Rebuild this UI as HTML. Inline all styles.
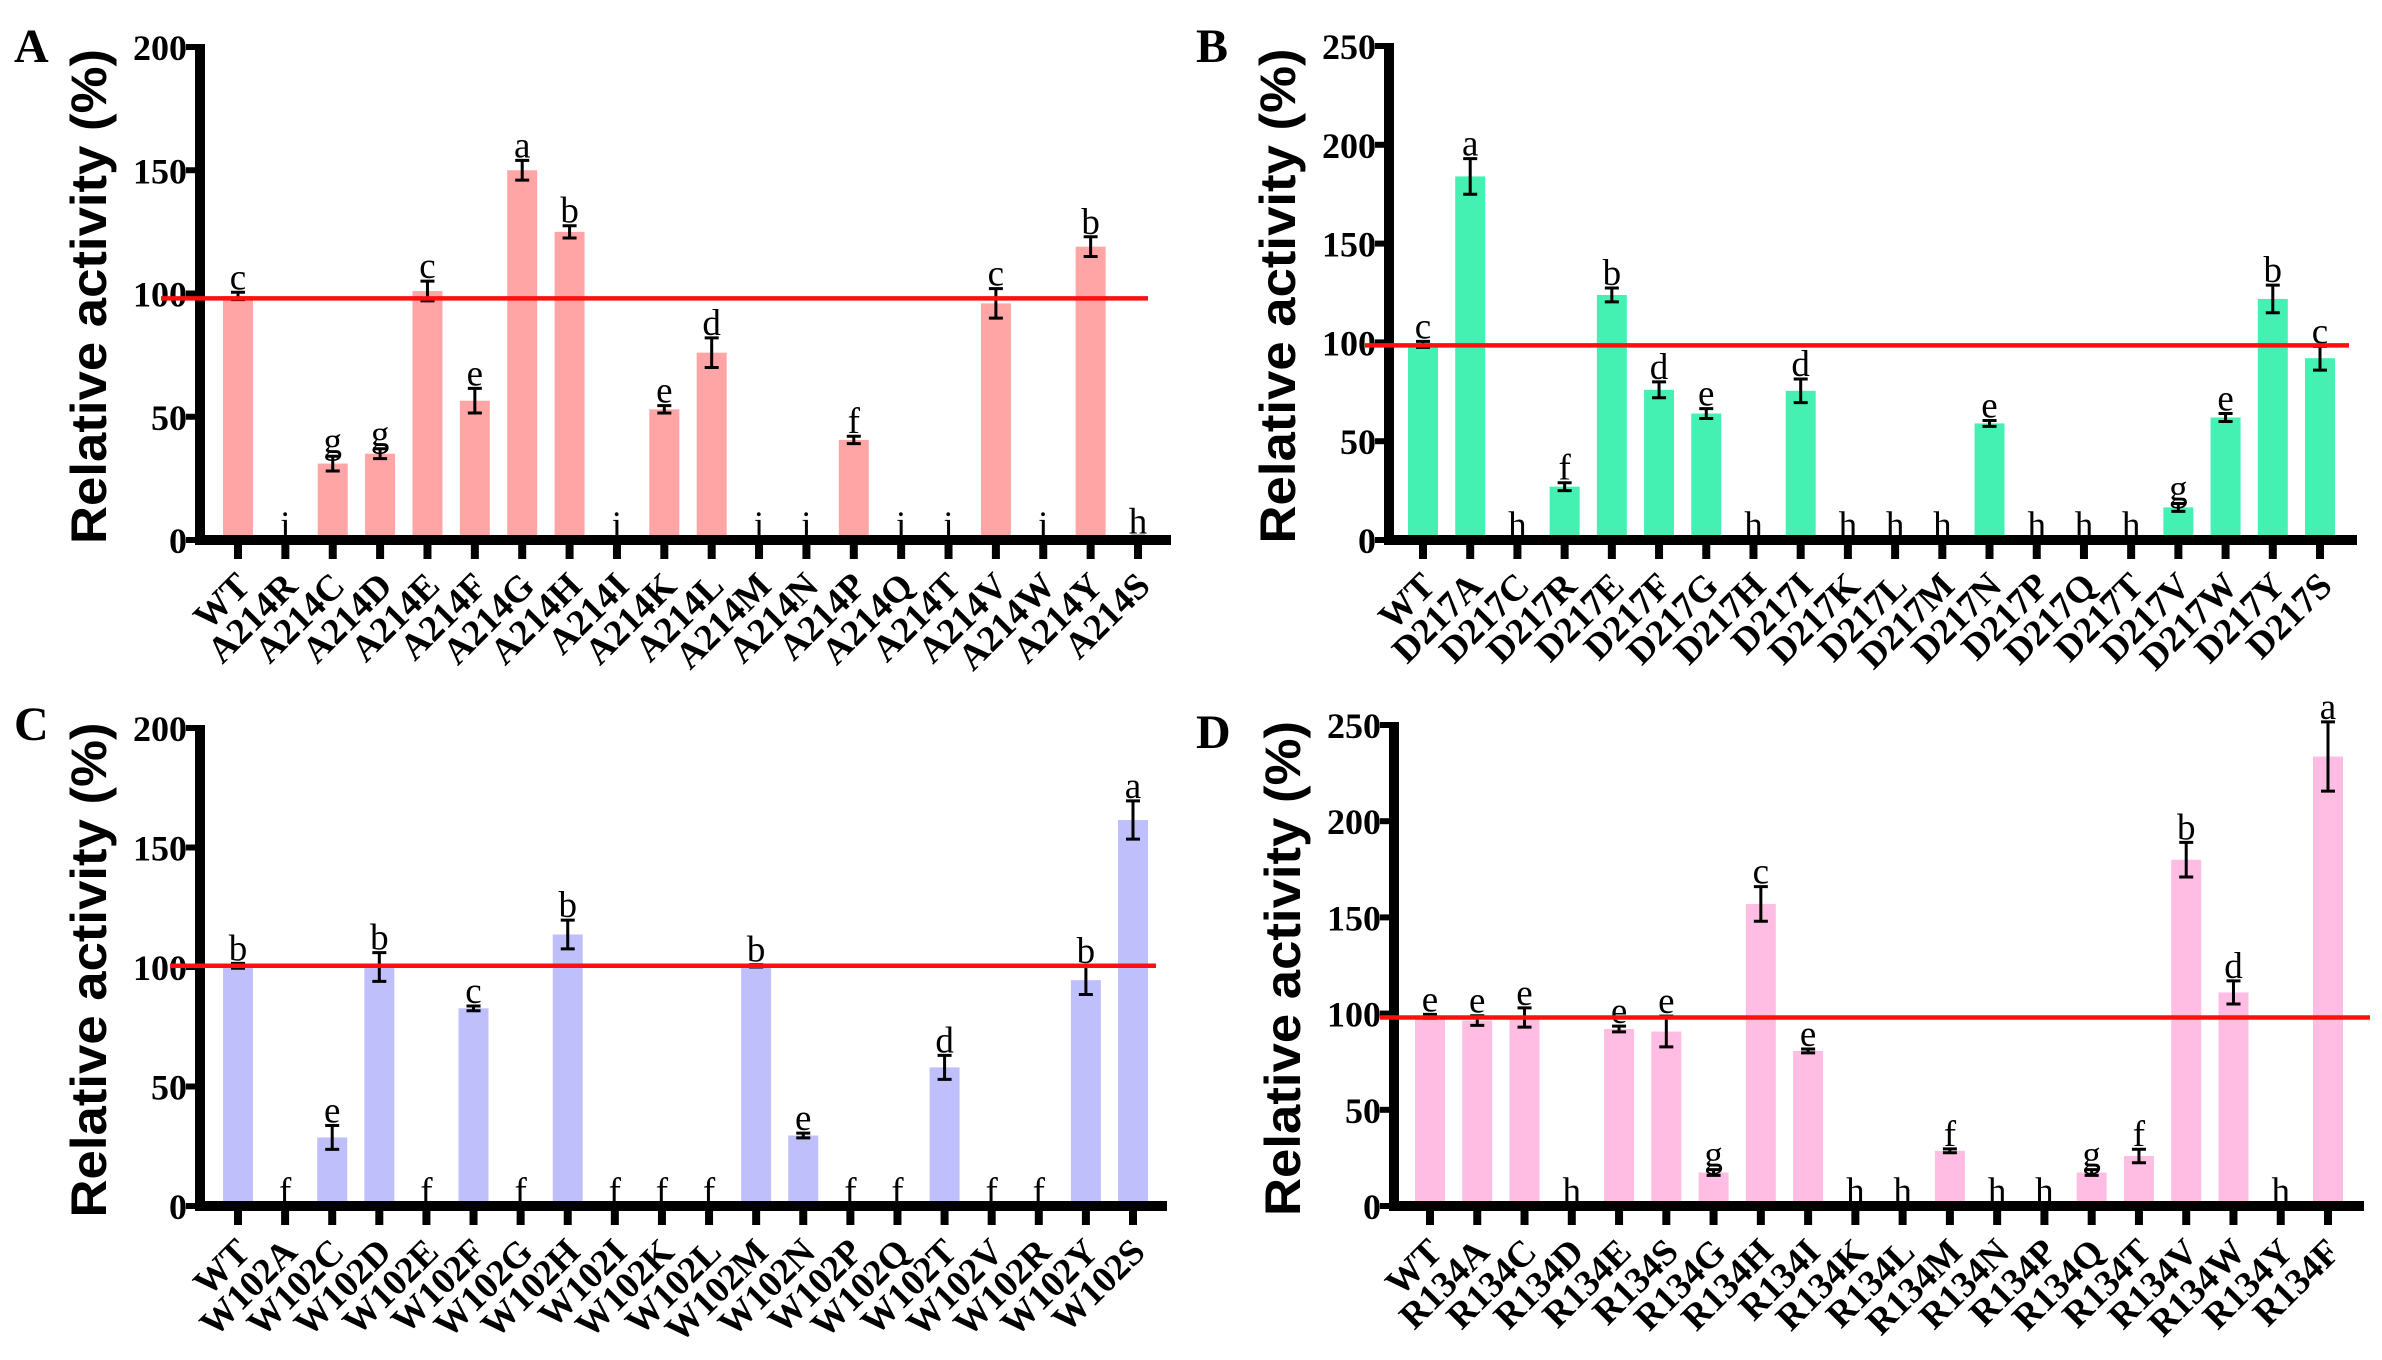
<!DOCTYPE html>
<html><head><meta charset="utf-8">
<style>
html,body{margin:0;padding:0;background:#fff;}
svg{display:block;}
</style></head>
<body>
<svg id="fig" width="2382" height="1360" viewBox="0 0 2382 1360" xmlns="http://www.w3.org/2000/svg"></svg>
<script>
// Panel A data
const catsA = ["WT","A214R","A214C","A214D","A214E","A214F","A214G","A214H","A214I","A214K","A214L","A214M","A214N","A214P","A214Q","A214T","A214V","A214W","A214Y","A214S"];
const valsA = [99,0,31,35,101,56.5,150,125,0,53,76,0,0,40.6,0,0,96,0,119,1];
const errsA = [1.5,0,3,2,4,5,4,2.5,0,1.5,6,0,0,1.5,0,0,6,0,4,0.5];
const letsA = ["c","i","g","g","c","e","a","b","i","e","d","i","i","f","i","i","c","i","b","h"];
const ticksA = [0,50,100,150,200];
// Panel B data
const catsB = ["WT","D217A","D217C","D217R","D217E","D217F","D217G","D217H","D217I","D217K","D217L","D217M","D217N","D217P","D217Q","D217T","D217V","D217W","D217Y","D217S"];
const valsB = [99,184,0,27,124,76,64,0,75.5,0,0,0,59,0,0,0,16.5,62,122,92];
const errsB = [1.5,9,0,2,3.5,4,2.5,0,6,0,0,0,1.5,0,0,0,2,2,7,6];
const letsB = ["c","a","h","f","b","d","e","h","d","h","h","h","e","h","h","h","g","e","b","c"];
const ticksB = [0,50,100,150,200,250];
// Panel C data
const catsC = ["WT","W102A","W102C","W102D","W102E","W102F","W102G","W102H","W102I","W102K","W102L","W102M","W102N","W102P","W102Q","W102T","W102V","W102R","W102Y","W102S"];
const valsC = [100.5,0,28.7,100,0,82.7,0,113.6,0,0,0,100.5,29.5,0,0,58,0,0,94.5,161.5];
const errsC = [1,0,5,6,0,1,0,6,0,0,0,0.5,1,0,0,5,0,0,6,8];
const letsC = ["b","f","e","b","f","c","f","b","f","f","f","b","e","f","f","d","f","f","b","a"];
const ticksC = [0,50,100,150,200];
// Panel D data
const catsD = ["WT","R134A","R134C","R134D","R134E","R134S","R134G","R134H","R134I","R134K","R134L","R134M","R134N","R134P","R134Q","R134T","R134V","R134W","R134Y","R134F"];
const valsD = [98.6,96.4,98,0,92,90.7,17.4,157,80.6,0,0,28.7,0,0,17.4,26,180,111,0,233.6];
const errsD = [1,2.5,5,0,1.5,8,1.5,9,1,0,0,1,0,0,1.5,3.5,9,6,0,18];
const letsD = ["e","e","e","h","e","e","g","c","e","h","h","f","h","h","g","f","b","d","h","a"];
const ticksD = [0,50,100,150,200,250];
const refLine = [98,98.5,100.5,98];

const NS = "http://www.w3.org/2000/svg";
const svg = document.getElementById("fig");
function mk(tag, attrs, parent){
  const e = document.createElementNS(NS, tag);
  for (const k in attrs) e.setAttribute(k, attrs[k]);
  (parent||svg).appendChild(e);
  return e;
}

const panels = [
  {id:"a", letter:"A", lx:14, ly:62, cats:catsA, vals:valsA, errs:errsA, lets:letsA, ticks:ticksA, ymax:200, ax:200, y0:540, ytop:47, x0:238, x1:1138, xend:1171, rx0:161, rx1:1148, ref:refLine[0], color:"#ffa5a5"},
  {id:"b", letter:"B", lx:1196, ly:62, cats:catsB, vals:valsB, errs:errsB, lets:letsB, ticks:ticksB, ymax:250, ax:1389, y0:540, ytop:46, x0:1423, x1:2320, xend:2357, rx0:1365, rx1:2349, ref:refLine[1], color:"#45f0b3"},
  {id:"c", letter:"C", lx:14, ly:740, cats:catsC, vals:valsC, errs:errsC, lets:letsC, ticks:ticksC, ymax:200, ax:200, y0:1206, ytop:728, x0:238, x1:1133, xend:1167, rx0:170, rx1:1156, ref:refLine[2], color:"#bfbffb"},
  {id:"d", letter:"D", lx:1196, ly:748, cats:catsD, vals:valsD, errs:errsD, lets:letsD, ticks:ticksD, ymax:250, ax:1394, y0:1206, ytop:725, x0:1430, x1:2328, xend:2364, rx0:1380, rx1:2370, ref:refLine[3], color:"#ffbde3"}
];

panels.forEach(p => {
  const g = mk("g", {});
  
  
  const yS = v => p.y0 - (v / p.ymax) * (p.y0 - p.ytop);
  const n = p.cats.length;
  const xS = i => p.x0 + i * (p.x1 - p.x0) / (n - 1);

  const pl = mk("text", {x:p.lx, y:p.ly, "font-family":"Liberation Serif, serif", "font-weight":"bold", "font-size":"48"}, g);
  pl.textContent = p.letter;
  
  

  const yt = mk("text", {transform:"translate(" + (p.ax - 94) + "," + ((p.ytop + p.y0) / 2 + 3) + ") rotate(-90)", "text-anchor":"middle", "font-family":"Liberation Sans, sans-serif", "font-weight":"bold", "font-size":"50", textLength:"495", lengthAdjust:"spacingAndGlyphs"}, g);
  yt.textContent = "Relative  activity (%)";
  
  

  p.vals.forEach((v, i) => {
    const cx = xS(i);
    if (v > 0) {
      const b = mk("rect", {x:cx - 15, y:yS(v), width:30, height:p.y0 - yS(v), fill:p.color}, g);
      
      
    }
    let top = yS(v);
    if (p.errs[i] > 0) {
      const t = yS(v + p.errs[i]), bt = yS(Math.max(0, v - p.errs[i]));
      const eb = mk("path", {d:"M" + cx + " " + t + "V" + bt + "M" + (cx - 7) + " " + t + "H" + (cx + 7) + "M" + (cx - 7) + " " + bt + "H" + (cx + 7), stroke:"#000", "stroke-width":"3", fill:"none"}, g);
      
      
      top = t;
    }
    const lt = mk("text", {x:cx, y:top - 3, "text-anchor":"middle", "font-family":"Liberation Serif, serif", "font-size":"37"}, g);
    lt.textContent = p.lets[i];
    
    

    const tk = mk("rect", {x:cx - 4, y:p.y0, width:8, height:19, fill:"#000"}, g);
    
    

    const xl = mk("text", {transform:"translate(" + (cx + 14) + "," + (p.y0 + 48) + ") rotate(-45)", "text-anchor":"end", "font-family":"Liberation Serif, serif", "font-weight":"bold", "font-size":"37"}, g);
    xl.textContent = p.cats[i];
    
    
  });

  const xa = mk("rect", {x:p.ax - 5, y:p.y0 - 5, width:p.xend - p.ax + 5, height:10, fill:"#000"}, g);
  
  
  const ya = mk("rect", {x:p.ax - 5, y:p.ytop - 3, width:10, height:p.y0 - p.ytop + 8, fill:"#000"}, g);
  
  

  p.ticks.forEach(t => {
    const y = yS(t);
    const tm = mk("rect", {x:p.ax - 14, y:y - 3, width:10, height:6, fill:"#000"}, g);
    
    
    const tl = mk("text", {x:p.ax - 13, y:y + 13, "text-anchor":"end", "font-family":"Liberation Serif, serif", "font-weight":"bold", "font-size":"36"}, g);
    tl.textContent = String(t);
    
    
  });

  const rl = mk("line", {x1:p.rx0, x2:p.rx1, y1:yS(p.ref), y2:yS(p.ref), stroke:"#ff1010", "stroke-width":"4.5"}, g);
  
  
});
</script>
</body></html>
